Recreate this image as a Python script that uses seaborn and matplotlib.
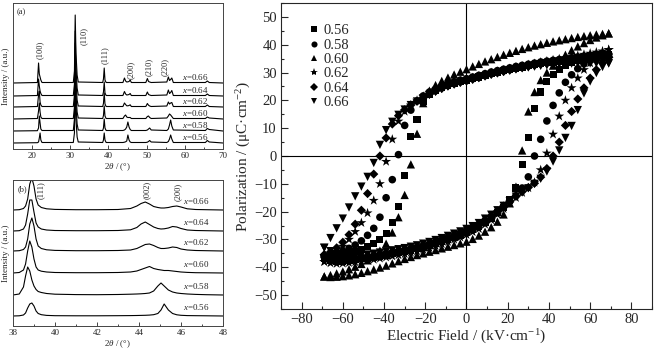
import matplotlib.pyplot as plt
import matplotlib.ticker as mticker
import numpy as np
import pandas as pd
import seaborn as sns

COMPOSITIONS = ["0.56", "0.58", "0.60", "0.62", "0.64", "0.66"]

# ---- XRD panel (a), wide scan: 2theta grid and intensities above each baseline
TWO_THETA_A = [15, 21.4, 21.7, 21.9, 22.1, 22.3, 22.6, 30.8, 31.1, 31.3, 31.5,
               31.8, 32.1, 38.5, 38.7, 38.9, 39.1, 39.4, 43.8, 44.2, 44.5, 44.8,
               45.1, 45.4, 45.7, 46.0, 49.8, 50.2, 50.5, 50.8, 51.2, 55.3, 55.7,
               56.0, 56.3, 56.6, 57.0, 65.4, 65.9, 66.4, 70]
INT_A_056 = [0, 0.3, 1, 5, 10, 3, 0.5, 0.5, 10, 58, 24, 6, 1, 0.5, 3, 10, 3, 0.5,
             0.5, 0.8, 1.2, 2, 8, 3, 1, 0.5, 0.5, 0.8, 1.5, 2.5, 1, 0.5, 1.5, 4,
             8, 4, 0.5, 0.5, 2.5, 1, 0]
INT_A_058 = [0, 0.3, 3, 15, 8, 2, 0.5, 0.5, 12, 60, 25, 7, 1, 0.5, 3, 12, 3, 0.5,
             0.5, 1, 2, 4, 9, 4, 1.5, 0.5, 0.5, 1, 2, 3, 1, 0.5, 2, 6, 11, 5, 1,
             0.5, 2.5, 1.5, 0]
INT_A_060 = [0, 0.5, 8, 16, 7, 2, 0.5, 0.5, 12, 62, 25, 7, 1, 0.5, 3.5, 13, 3,
             0.5, 0.5, 3, 4, 2, 1.5, 1.5, 1.5, 0.5, 0.5, 2.5, 3, 1.5, 0.5, 1, 3,
             5, 4, 2.5, 0.5, 0.5, 2, 1, 0]
INT_A_062 = [0, 0.5, 12, 16, 5, 2, 0.5, 0.5, 12, 64, 26, 7, 1, 0.5, 3.5, 14, 3,
             0.5, 0.5, 4, 2.5, 1.2, 1.2, 1.5, 2.2, 0.5, 0.5, 3.5, 1.8, 1, 0.5, 1,
             5, 3, 4, 4.5, 0.5, 0.5, 2, 0.5, 0]
INT_A_064 = [0, 0.5, 17, 10, 5, 2.5, 0.5, 0.5, 12, 65, 28, 8, 1, 0.5, 4, 14, 3,
             0.5, 0.5, 4.5, 2, 1, 1.2, 1.5, 2.5, 0.5, 0.5, 4, 1.5, 1, 0.5, 1, 6,
             2.5, 3.5, 5.5, 0.5, 0.5, 2, 0.5, 0]
INT_A_066 = [0, 0.5, 20, 9, 6, 3, 0.5, 0.5, 12, 68, 30, 8, 1, 0.5, 4, 15, 3, 0.5,
             0.5, 5, 2, 1, 1.2, 1.5, 3, 0.5, 0.5, 4.5, 1.5, 1, 0.5, 1, 6, 2.5,
             3.5, 5, 0.5, 0.5, 2, 0.5, 0]
BASELINE_A = [6, 18, 30, 42, 53, 66]
PEAKS_A = ["(100)", "(110)", "(111)", "(200)", "(210)", "(220)"]
PEAKS_A_POS = [21.9, 33.6, 39.0, 45.9, 50.6, 54.9]
PEAKS_A_HEIGHT = [99, 113, 94, 79, 82, 82]

# ---- XRD panel (b), slow scan 38-48
TWO_THETA_B = [38.0, 38.3, 38.5, 38.6, 38.7, 38.8, 38.9, 39.0, 39.1, 39.2, 39.35,
               39.6, 40.0, 41.0, 42.0, 43.0, 43.6, 43.9, 44.1, 44.3, 44.5, 44.7,
               44.9, 45.05, 45.2, 45.4, 45.6, 45.8, 46.0, 46.3, 46.7, 47.2, 48.0]
INT_B_056 = [0, 0.2, 1, 3, 8, 12, 13, 10, 5, 2.5, 1.3, 0.6, 0.3, 0.2, 0.2, 0.3,
             0.4, 0.5, 0.6, 0.7, 0.9, 1.3, 2.5, 6, 12, 6, 2.5, 1.2, 0.7, 0.4, 0.3,
             0.2, 0]
INT_B_058 = [0, 1, 8, 19, 28, 24, 15, 9, 5.5, 3.5, 2.5, 1.5, 0.8, 0.4, 0.3, 0.5,
             0.8, 1, 1.2, 1.5, 2, 4, 9, 12, 9, 5, 3, 2, 1.5, 1, 0.6, 0.3, 0]
INT_B_060 = [0, 0.5, 3, 9, 22, 32, 26, 14, 6, 3, 1.8, 1, 0.5, 0.3, 0.3, 0.5, 1, 2,
             3.5, 5, 6.5, 4.5, 3.5, 3, 2.5, 2.5, 2, 1.5, 1, 0.6, 0.3, 0.2, 0]
INT_B_062 = [0, 0.3, 1.5, 4, 12, 27, 33, 25, 12, 5, 2.5, 1.2, 0.6, 0.3, 0.3, 0.5,
             1, 2.5, 4.5, 6.5, 7, 5.5, 3.5, 2.5, 2.5, 3, 4, 3.5, 2, 1, 0.5, 0.3, 0]
INT_B_064 = [0, 0.3, 2, 6, 17, 31, 31, 19, 8, 4, 2, 1, 0.5, 0.3, 0.3, 0.5, 1.2,
             3.5, 7, 9, 6.5, 4, 2.5, 2, 2.2, 3, 4.5, 4, 2.5, 1, 0.5, 0.3, 0]
INT_B_066 = [0, 0.3, 1.5, 4, 11, 26, 32, 24, 11, 5, 2.5, 1.2, 0.6, 0.3, 0.3, 0.5,
             1.5, 4, 6.5, 8, 6, 3.5, 2.5, 2, 2, 2.5, 3.5, 4, 3, 1.2, 0.5, 0.3, 0]
BASELINE_B = [10, 31, 53, 75, 95, 116]
PEAKS_B = ["(111)", "(002)", "(200)"]
PEAKS_B_POS = [39.33, 44.38, 45.87]
PEAKS_B_HEIGHT = [136, 136, 134]

# ---- P-E hysteresis loops: field sweep and polarization on both branches
E_FIELD = [-69, -66, -63, -60, -57, -54, -51, -48, -45, -42, -39, -36, -33, -30,
           -27, -24, -21, -18, -15, -12, -9, -6, -3, 0, 3, 6, 9, 12, 15, 18, 21,
           24, 27, 30, 33, 36, 39, 42, 45, 48, 51, 54, 57, 60, 63, 66, 69]
P_UP_056 = [-36.8, -36.5, -36.1, -35.6, -35.0, -34.3, -33.5, -32.6, -31.5, -30.0,
            -28.0, -24.0, -18.0, -7.0, 7.0, 13.0, 19.5, 22.2, 23.4, 24.5,
            25.4, 26.1, 26.7, 27.2, 27.8, 28.4, 29.0, 29.6, 30.1, 30.6,
            31.1, 31.6, 32.0, 32.4, 32.8, 33.2, 33.5, 33.8, 34.1, 34.4,
            34.7, 35.0, 35.3, 35.6, 35.9, 36.2, 36.5]
P_LOW_056 = [-36.8, -37.4, -37.8, -37.8, -37.6, -37.3, -37.0, -36.7, -36.4, -36.0,
             -35.6, -35.2, -34.8, -34.4, -33.9, -33.4, -32.8, -32.2, -31.5, -30.8,
             -30.0, -29.2, -28.4, -27.5, -26.5, -25.4, -23.8, -22.4, -20.4, -18.4,
             -15.8, -11.5, -3.0, 6.5, 17.0, 23.0, 26.8, 29.3, 31.2, 32.6,
             33.7, 34.5, 35.2, 35.7, 36.1, 36.4, 36.5]
P_UP_058 = [-36.2, -35.7, -35.0, -34.2, -33.2, -32.0, -30.5, -28.5, -26.0, -22.0,
            -15.0, -8.5, 0.5, 11.0, 16.5, 19.8, 21.6, 23.0, 24.1, 25.1,
            26.0, 26.7, 27.3, 27.8, 28.4, 29.0, 29.6, 30.2, 30.7, 31.2,
            31.7, 32.2, 32.6, 33.0, 33.4, 33.8, 34.1, 34.4, 34.7, 35.0,
            35.3, 35.6, 35.9, 36.1, 36.3, 36.5, 36.6]
P_LOW_058 = [-36.2, -36.8, -37.2, -37.3, -37.1, -36.8, -36.5, -36.2, -35.9, -35.5,
             -35.1, -34.7, -34.3, -33.9, -33.4, -32.9, -32.3, -31.7, -31.0, -30.3,
             -29.5, -28.7, -27.9, -27.0, -26.0, -24.9, -23.3, -21.9, -20.0, -18.3,
             -16.4, -14.3, -11.5, -7.5, 0.0, 6.0, 12.6, 18.2, 22.7, 26.5,
             29.2, 31.4, 33.1, 34.4, 35.4, 36.1, 36.6]
P_UP_060 = [-43.3, -42.8, -42.2, -41.5, -40.7, -39.8, -38.8, -37.5, -36.0, -34.0,
            -31.5, -27.5, -22.0, -14.0, -3.0, 8.0, 19.0, 23.5, 25.5, 27.0,
            28.2, 29.3, 30.3, 31.2, 32.2, 33.1, 34.0, 34.8, 35.6, 36.4,
            37.1, 37.8, 38.5, 39.1, 39.7, 40.2, 40.7, 41.2, 41.6, 42.0,
            42.4, 42.8, 43.1, 43.4, 43.7, 43.9, 44.1]
P_LOW_060 = [-43.3, -43.5, -43.4, -43.2, -42.9, -42.5, -42.0, -41.4, -40.8, -40.1,
             -39.4, -38.6, -37.8, -37.0, -36.3, -35.6, -35.0, -34.4, -33.8, -33.2,
             -32.6, -32.0, -31.4, -30.8, -29.8, -28.6, -27.2, -25.6, -23.6, -21.0,
             -17.0, -11.0, 2.0, 16.0, 23.0, 27.3, 30.0, 32.5, 34.6, 36.4,
             38.0, 39.4, 40.6, 41.7, 42.6, 43.4, 44.1]
P_UP_062 = [-38.0, -36.4, -34.6, -32.5, -30.0, -27.2, -24.0, -20.5, -16.0, -10.0,
            -2.0, 6.0, 12.5, 16.0, 18.3, 20.0, 21.4, 22.7, 23.8, 24.8,
            25.7, 26.4, 27.0, 27.5, 28.1, 28.7, 29.3, 29.9, 30.4, 30.9,
            31.4, 31.9, 32.3, 32.8, 33.2, 33.7, 34.1, 34.5, 34.9, 35.3,
            35.7, 36.1, 36.5, 36.9, 37.3, 37.7, 38.2]
P_LOW_062 = [-38.0, -38.5, -38.7, -38.6, -38.4, -38.1, -37.8, -37.5, -37.2, -36.8,
             -36.4, -36.0, -35.6, -35.2, -34.7, -34.2, -33.6, -33.0, -32.3, -31.6,
             -30.8, -30.0, -29.2, -28.3, -27.3, -26.2, -24.6, -23.0, -21.0, -19.0,
             -17.0, -15.0, -13.2, -11.5, -9.5, -5.0, 1.0, 7.8, 14.3, 20.0,
             24.5, 28.0, 31.0, 33.4, 35.4, 37.0, 38.2]
P_UP_064 = [-35.5, -34.5, -33.0, -31.0, -28.3, -24.5, -19.5, -13.5, -6.5, 0.0,
            6.5, 11.5, 14.5, 16.6, 18.3, 19.7, 20.9, 22.2, 23.3, 24.3,
            25.2, 25.9, 26.5, 27.0, 27.6, 28.2, 28.8, 29.4, 29.9, 30.4,
            30.9, 31.4, 31.8, 32.2, 32.6, 33.0, 33.3, 33.6, 33.9, 34.2,
            34.5, 34.7, 34.9, 35.1, 35.3, 35.4, 35.5]
P_LOW_064 = [-35.5, -36.2, -36.7, -37.0, -36.8, -36.5, -36.2, -35.9, -35.6, -35.2,
             -34.8, -34.4, -34.0, -33.6, -33.1, -32.6, -32.0, -31.4, -30.7, -30.0,
             -29.2, -28.4, -27.6, -26.7, -25.7, -24.6, -23.0, -21.6, -19.8, -18.0,
             -16.2, -14.4, -12.8, -11.3, -9.8, -7.6, -4.5, 0.0, 5.0, 11.0,
             16.0, 20.5, 24.5, 28.0, 31.0, 33.5, 35.5]
P_UP_066 = [-33.0, -29.5, -26.0, -22.5, -18.5, -14.5, -11.0, -7.5, -2.5, 4.0,
            9.3, 12.3, 14.8, 16.7, 18.3, 19.6, 20.8, 22.0, 23.1, 24.1,
            25.0, 25.7, 26.3, 26.8, 27.4, 28.0, 28.6, 29.2, 29.7, 30.2,
            30.7, 31.1, 31.5, 31.8, 32.1, 32.4, 32.6, 32.8, 33.0, 33.1,
            33.2, 33.3, 33.3, 33.3, 33.3, 33.3, 33.3]
P_LOW_066 = [-33.0, -34.2, -35.2, -36.0, -36.3, -36.0, -35.7, -35.4, -35.1, -34.7,
             -34.3, -33.9, -33.5, -33.1, -32.6, -32.1, -31.5, -30.9, -30.2, -29.5,
             -28.7, -27.9, -27.1, -26.2, -25.2, -24.1, -22.5, -21.1, -19.5, -17.9,
             -16.3, -14.6, -13.1, -11.6, -10.0, -8.2, -5.6, -2.0, 2.0, 6.5,
             10.8, 16.5, 22.5, 26.8, 29.8, 32.0, 33.3]

MARKERS = {"0.56": "s", "0.58": "o", "0.60": "^", "0.62": "*", "0.64": "D", "0.66": "v"}
SIZES = {"0.56": 26, "0.58": 30, "0.60": 36, "0.62": 56, "0.64": 22, "0.66": 36}

sns.set_theme(style="ticks")
plt.rcParams["font.family"] = ["Liberation Serif", "DejaVu Serif"]
plt.rcParams["mathtext.fontset"] = "custom"
plt.rcParams["mathtext.rm"] = "Liberation Serif"
plt.rcParams["mathtext.it"] = "Liberation Serif:italic"
plt.rcParams["axes.linewidth"] = 0.8

fig = plt.figure(figsize=(6.55, 3.5), dpi=100)
ax_a = fig.add_axes([0.0198, 0.5743, 0.3206, 0.4171])
ax_b = fig.add_axes([0.0198, 0.0686, 0.3206, 0.4171])
ax_pe = fig.add_axes([0.429, 0.1171, 0.5664, 0.8743])

small = 6.5


def draw_xrd(ax, two_theta, patterns, baselines, label_x, label_dy, va):
    for comp, inten, base in zip(COMPOSITIONS, patterns, baselines):
        sns.lineplot(x=two_theta, y=np.array(inten) + base, color="black",
                     lw=0.8, sort=False, estimator=None, ax=ax)
        ax.text(label_x, base + label_dy, f"$x$={comp}", fontsize=small, va=va,
                ha="left")
    ax.set_ylim(0, 146)
    ax.set_yticks([])
    ax.set_ylabel("Intensity / (a.u.)", fontsize=small, labelpad=2)
    ax.set_xlabel(r"2$\theta$ / (°)", fontsize=small, labelpad=1)
    ax.tick_params(axis="x", which="both", direction="in", labelsize=small,
                   pad=2, width=0.6)
    ax.tick_params(axis="x", which="major", length=3)
    ax.tick_params(axis="x", which="minor", length=1.5)
    for s in ax.spines.values():
        s.set_linewidth(0.7)
        s.set_color("#444444")


draw_xrd(ax_a, TWO_THETA_A,
         [INT_A_056, INT_A_058, INT_A_060, INT_A_062, INT_A_064, INT_A_066],
         BASELINE_A, 59.3, 0.8, "bottom")
ax_a.set_xlim(15, 70)
ax_a.xaxis.set_major_locator(mticker.MultipleLocator(10))
ax_a.xaxis.set_minor_locator(mticker.MultipleLocator(5))
for lab, px, py in zip(PEAKS_A, PEAKS_A_POS, PEAKS_A_HEIGHT):
    ax_a.text(px, py, lab, rotation=90, fontsize=6, ha="center", va="center")
ax_a.text(16, 141, "(a)", fontsize=6, va="top")

draw_xrd(ax_b, TWO_THETA_B,
         [INT_B_056, INT_B_058, INT_B_060, INT_B_062, INT_B_064, INT_B_066],
         BASELINE_B, 46.1, 9, "center")
ax_b.set_xlim(38, 48)
ax_b.xaxis.set_major_locator(mticker.MultipleLocator(2))
ax_b.xaxis.set_minor_locator(mticker.MultipleLocator(1))
for lab, px, py in zip(PEAKS_B, PEAKS_B_POS, PEAKS_B_HEIGHT):
    ax_b.text(px, py, lab, rotation=90, fontsize=6, ha="center", va="center")
ax_b.text(38.2, 141, "(b)", fontsize=6, va="top")

# P-E loops
frames = []
for comp, up, low in zip(COMPOSITIONS,
                         [P_UP_056, P_UP_058, P_UP_060, P_UP_062, P_UP_064, P_UP_066],
                         [P_LOW_056, P_LOW_058, P_LOW_060, P_LOW_062, P_LOW_064, P_LOW_066]):
    branch = pd.DataFrame({"E": E_FIELD + E_FIELD, "P": up + low})
    branch["x"] = comp
    frames.append(branch)
pe = pd.concat(frames, ignore_index=True)

ax_pe.axhline(0, color="black", lw=0.8, zorder=1)
ax_pe.axvline(0, color="black", lw=0.8, zorder=1)
sns.scatterplot(data=pe, x="E", y="P", style="x", size="x", markers=MARKERS,
                sizes=SIZES, style_order=COMPOSITIONS, size_order=COMPOSITIONS,
                color="black", linewidth=0, ax=ax_pe, zorder=3)

handles, labels = ax_pe.get_legend_handles_labels()
ax_pe.legend(handles, labels, loc="upper left", bbox_to_anchor=(0.045, 0.955),
             frameon=False, fontsize=10.5, handletextpad=0.1, labelspacing=0.08,
             borderpad=0, handlelength=1.2, markerscale=0.8)

ax_pe.set_xlim(-90, 90)
ax_pe.set_ylim(-55, 55)
ax_pe.xaxis.set_major_locator(mticker.MultipleLocator(20))
ax_pe.xaxis.set_minor_locator(mticker.MultipleLocator(10))
ax_pe.yaxis.set_major_locator(mticker.MultipleLocator(10))
ax_pe.yaxis.set_minor_locator(mticker.MultipleLocator(5))
ax_pe.tick_params(which="both", direction="in", labelsize=10.5, width=0.8, pad=3)
ax_pe.tick_params(which="major", length=5)
ax_pe.tick_params(which="minor", length=2.5)
ax_pe.set_xlabel(r"Electric Field / (kV·cm$^{-1}$)", fontsize=11, labelpad=1)
ax_pe.set_ylabel(r"Polarization / (μC·cm$^{-2}$)", fontsize=11, labelpad=1)
for s in ax_pe.spines.values():
    s.set_linewidth(0.8)

fig.savefig("out.png", dpi=100)
